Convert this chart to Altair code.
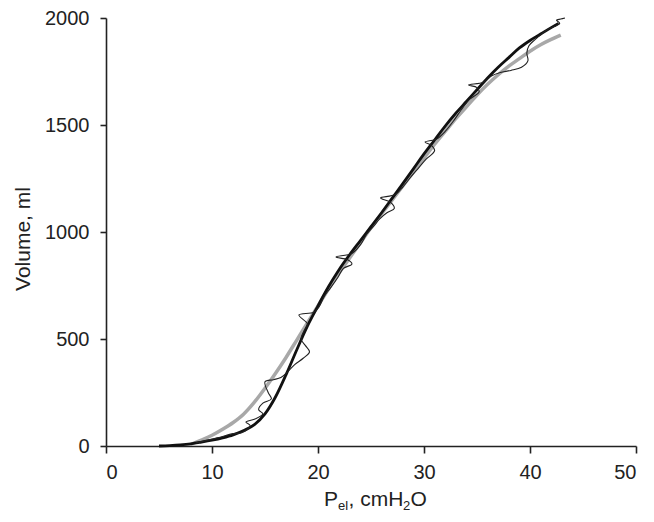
import altair as alt
import pandas as pd

# Thick black smooth curve (P_el, volume)
smooth_p = [5, 6, 7, 8, 9, 10, 11, 12, 13, 14, 15, 16, 17, 18, 19, 20, 21, 22, 23, 24, 25,
            26, 27, 28, 29, 30, 31, 32, 33, 34, 35, 36, 37, 38, 39, 40, 41, 42, 42.7]
smooth_v = [0, 2, 5, 10, 18, 27, 38, 52, 72, 100, 150, 230, 335, 450, 560, 655, 745, 825, 895, 960, 1025,
            1090, 1158, 1226, 1295, 1365, 1430, 1495, 1555, 1610, 1665, 1720, 1770, 1815, 1860, 1895, 1925, 1955, 1975]

# Grey fitted curve
fit_p = [8, 9, 10, 11, 12, 13, 14, 15, 16, 17, 18, 19, 20, 21, 22, 23, 24, 25, 26, 27, 28, 29, 30,
         31, 32, 33, 34, 35, 36, 37, 38, 39, 40, 41, 42, 42.9]
fit_v = [8, 28, 50, 78, 110, 150, 205, 270, 340, 415, 495, 575, 655, 735, 810, 880, 950, 1020, 1085, 1150, 1215, 1280, 1345,
         1410, 1470, 1530, 1585, 1640, 1690, 1735, 1775, 1810, 1845, 1875, 1900, 1920]

# Thin oscillating trace
trace_p = [8.5, 10.5, 12, 12.8, 13.6, 13.2, 14.0, 14.8, 14.4, 14.8, 15.6, 15.3, 15.0, 15.8, 16.5, 17.2, 17.8, 18.6, 19.2,
           18.8, 18.4, 18.7, 19.0, 18.2, 19.6, 20.1, 20.6, 21.2, 21.9, 22.4, 23.2, 22.8, 21.7, 23.2, 24.0, 24.6, 25.3,
           25.8, 26.5, 27.2, 26.8, 25.9, 27.3, 28.0, 28.8, 29.5, 30.2, 31.0, 30.7, 30.1, 31.2, 32.0, 32.8, 33.5, 34.3,
           35.2, 35.0, 34.2, 35.6, 36.4, 37.2, 38.2, 39.2, 39.8, 39.7, 39.9, 40.5, 41.2, 41.8, 42.3, 42.8, 42.5, 42.9, 43.3]
trace_v = [15, 38, 58, 62, 95, 112, 125, 150, 170, 200, 220, 250, 300, 310, 320, 350, 380, 410, 440,
           470, 500, 540, 570, 612, 625, 650, 700, 740, 790, 830, 850, 870, 883, 900, 940, 990, 1030,
           1060, 1090, 1110, 1140, 1159, 1175, 1210, 1260, 1300, 1340, 1380, 1405, 1420, 1435, 1470, 1520, 1570, 1620,
           1655, 1675, 1687, 1700, 1730, 1745, 1755, 1770, 1800, 1836, 1870, 1900, 1930, 1950, 1960, 1975, 1990, 1995, 2000]

x_ticks = [0, 10, 20, 30, 40, 50]
y_ticks = [0, 500, 1000, 1500, 2000]

FONT = "Liberation Sans"

df_s = pd.DataFrame({"p": smooth_p, "v": smooth_v, "o": list(range(len(smooth_p)))})
df_f = pd.DataFrame({"p": fit_p, "v": fit_v, "o": list(range(len(fit_p)))})
df_t = pd.DataFrame({"p": trace_p, "v": trace_v, "o": list(range(len(trace_p)))})

xs = alt.Scale(domain=[0, 50], nice=False, zero=False)
ys = alt.Scale(domain=[0, 2000], nice=False, zero=False)

xax = alt.Axis(values=x_ticks, title=None, grid=False, domainColor="#222", domainWidth=1.6,
               tickColor="#222", tickWidth=1.6, tickSize=7, labelFontSize=20, labelFont=FONT,
               labelColor="#222", labelPadding=9, format="d")
yax = alt.Axis(values=y_ticks, title=None, grid=False, domainColor="#222", domainWidth=1.6,
               tickColor="#222", tickWidth=1.6, tickSize=6, labelFontSize=20, labelFont=FONT,
               labelColor="#222", labelPadding=11, format="d")

fit = alt.Chart(df_f).mark_line(color="#a8a8a8", strokeWidth=3.5, interpolate="monotone").encode(
    x=alt.X("p:Q", scale=xs, axis=xax), y=alt.Y("v:Q", scale=ys, axis=yax), order="o:Q")
smooth = alt.Chart(df_s).mark_line(color="#111", strokeWidth=2.8, interpolate="monotone").encode(
    x=alt.X("p:Q", scale=xs), y=alt.Y("v:Q", scale=ys), order="o:Q")
trace = alt.Chart(df_t).mark_line(color="#222", strokeWidth=1.1, interpolate="catmull-rom").encode(
    x=alt.X("p:Q", scale=xs), y=alt.Y("v:Q", scale=ys), order="o:Q")

one = pd.DataFrame({"a": [0]})
def txt(s, x, y, size, angle=0, align="left"):
    return alt.Chart(one).mark_text(text=s, fontSize=size, font=FONT, color="#222", align=align,
                                    baseline="alphabetic", angle=angle).encode(
        x=alt.value(x), y=alt.value(y))

# x title "P_el, cmH2O" composed with subscripts
base_y = 488
x0 = 218
xt = [
    txt("P", x0, base_y, 21),
    txt("el", x0 + 14, base_y + 4, 13),
    txt(", cmH", x0 + 24.5, base_y, 21),
    txt("2", x0 + 79, base_y + 4, 13),
    txt("O", x0 + 86.5, base_y, 21),
]
ytitle = txt("Volume, ml", -76, 221, 21, angle=270, align="center")

chart = alt.layer(fit, smooth, trace, *xt, ytitle).properties(
    width=530, height=428,
    autosize=alt.AutoSizeParams(type="none"),
    padding={"left": 98, "top": 10, "right": 10, "bottom": 68},
).configure_view(stroke=None)

chart.save("out.html", embed_options={"renderer": "svg", "actions": False})
